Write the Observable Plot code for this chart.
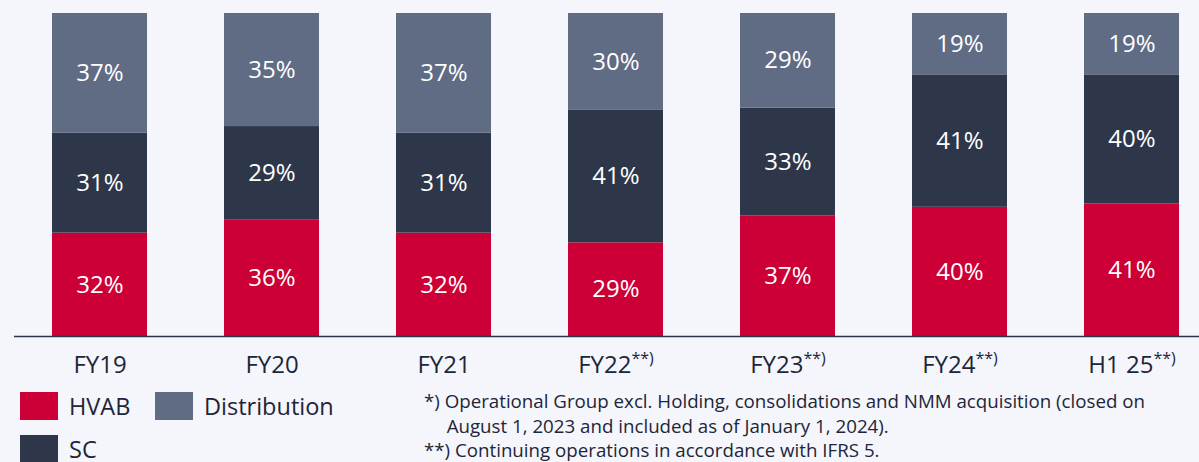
<!DOCTYPE html>
<html>
<head>
<meta charset="utf-8">
<script src="https://cdn.jsdelivr.net/npm/d3@7"></script>
<script src="https://cdn.jsdelivr.net/npm/@observablehq/plot@0.6"></script>
<style>
  html, body { margin: 0; padding: 0; background: #f4f6fb; }
  #wrap { position: relative; width: 1199px; height: 462px; overflow: hidden; font-family: "Open Sans", sans-serif; color: #1e2538; }
  .sw { position: absolute; width: 38px; height: 28px; }
  .lt { position: absolute; font-size: 23.5px; line-height: 24px; }
  #notes { position: absolute; left: 424px; top: 389px; font-size: 19px; line-height: 24.5px; transform-origin: 0 0; white-space: nowrap; }
  #notes div.ind { padding-left: 23px; }
</style>
</head>
<body>
<div id="wrap">
  <div id="chart"></div>
  <div id="legend"></div>
  <div id="notes"></div>
</div>
<script>
const categories = ["FY19", "FY20", "FY21", "FY22", "FY23", "FY24", "H1 25"];
const superscripts = ["", "", "", "**)", "**)", "**)", "**)"];
const seriesNames = ["HVAB", "SC", "Distribution"];
const seriesColors = ["#cc0036", "#2e374a", "#606b84"];
const hvab = [32, 36, 32, 29, 37, 40, 41];
const sc = [31, 29, 31, 41, 33, 41, 40];
const distribution = [37, 35, 37, 30, 29, 19, 19];
const footnotes = [
  "*) Operational Group excl. Holding, consolidations and NMM acquisition (closed on",
  "August 1, 2023 and included as of January 1, 2024).",
  "**) Continuing operations in accordance with IFRS 5."
];

const valuesBySeries = [hvab, sc, distribution];
const data = [];
categories.forEach((c, i) => {
  seriesNames.forEach((s, j) => data.push({cat: c, series: s, value: valuesBySeries[j][i]}));
});

const plot = Plot.plot({
  width: 1199,
  height: 380,
  marginTop: 13,
  marginBottom: 44,
  marginLeft: 14,
  marginRight: 0,
  style: {background: "transparent", fontFamily: "'Open Sans', sans-serif", color: "#1e2538"},
  x: {domain: categories, paddingInner: 0.445, paddingOuter: 0.167, align: 0.66, label: null},
  y: {axis: null, domain: [0, 1]},
  color: {domain: seriesNames, range: seriesColors},
  marks: [
    Plot.barY(data, Plot.stackY({x: "cat", y: "value", z: "series", fill: "series", order: seriesNames, offset: "normalize"})),
    Plot.text(data, Plot.stackY({x: "cat", y: "value", z: "series", order: seriesNames, offset: "normalize", text: d => d.value + "%", fill: "#ffffff", fontSize: 24})),
    Plot.ruleY([0], {stroke: "#2e3649", strokeWidth: 1.5}),
    Plot.axisX({tickSize: 0, tickPadding: 19, fontSize: 24, fill: "#1e2538"})
  ]
});
document.getElementById("chart").appendChild(plot);

// superscripts on tick labels
d3.select(plot).selectAll("g[aria-label='x-axis tick label'] text").each(function() {
  const t = this.textContent;
  const i = categories.indexOf(t);
  if (i >= 0 && superscripts[i]) {
    d3.select(this).append("tspan").attr("font-size", 16).attr("dy", -9).text(superscripts[i]);
  }
});

// legend
const legend = document.getElementById("legend");
const legendPos = [{x: 20, y: 392}, {x: 20, y: 435}, {x: 155, y: 392}];
seriesNames.forEach((s, j) => {
  const sw = document.createElement("div");
  sw.className = "sw";
  sw.style.left = legendPos[j].x + "px";
  sw.style.top = legendPos[j].y + "px";
  sw.style.background = seriesColors[j];
  legend.appendChild(sw);
  const lt = document.createElement("div");
  lt.className = "lt";
  lt.style.left = (legendPos[j].x + 49) + "px";
  lt.style.top = (legendPos[j].y + 2) + "px";
  lt.textContent = s;
  legend.appendChild(lt);
});

// footnotes
const notes = document.getElementById("notes");
footnotes.forEach((f, i) => {
  const d = document.createElement("div");
  if (i === 1) d.className = "ind";
  const span = document.createElement("span");
  span.textContent = f;
  d.appendChild(span);
  notes.appendChild(d);
});
const natural = notes.firstChild.firstChild.getBoundingClientRect().width;
notes.style.transform = "scaleX(" + (721 / natural) + ")";
</script>
</body>
</html>
